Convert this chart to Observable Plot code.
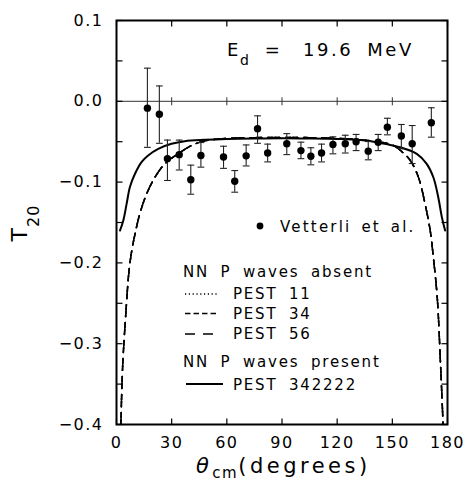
<!DOCTYPE html>
<html>
<head>
<meta charset="utf-8">
<script src="https://cdn.jsdelivr.net/npm/d3@7"></script>
<script src="https://cdn.jsdelivr.net/npm/@observablehq/plot@0.6"></script>
<style>
  html, body { margin: 0; padding: 0; background: #fff; }
</style>
</head>
<body>
<div id="chart"></div>
<script>
// ---- axes / ticks ----
const xDomain = [0, 180];
const yDomain = [-0.4, 0.1];
const xTicks = [0, 30, 60, 90, 120, 150, 180];
const yMajor = [-0.4, -0.3, -0.2, -0.1, 0.0, 0.1];
const yMinor = [-0.4, -0.35, -0.3, -0.25, -0.2, -0.15, -0.1, -0.05, 0.0, 0.05, 0.1];

// ---- Vetterli et al. data ----
const dataTheta = [16.8, 23.3, 27.7, 34.1, 40.4, 45.9, 58.2, 64.3, 70.5, 76.7, 82.2, 92.6,
                   100.3, 105.7, 111.5, 117.7, 124.4, 130.3, 136.9, 142.3, 147.3, 154.9, 160.8, 171.2];
const dataT20   = [-0.0085, -0.016, -0.071, -0.066, -0.097, -0.067, -0.069, -0.099, -0.0675, -0.034, -0.064, -0.0526,
                   -0.061, -0.068, -0.064, -0.0535, -0.0526, -0.050, -0.0617, -0.0506, -0.032, -0.043, -0.0526, -0.0266];
const dataLo    = [-0.057, -0.052, -0.098, -0.085, -0.115, -0.0815, -0.083, -0.1125, -0.080, -0.052, -0.075, -0.066,
                   -0.071, -0.0786, -0.075, -0.065, -0.064, -0.061, -0.0724, -0.061, -0.0415, -0.0588, -0.077, -0.0444];
const dataHi    = [0.041, 0.019, -0.048, -0.048, -0.079, -0.051, -0.0556, -0.0857, -0.054, -0.018, -0.053, -0.040,
                   -0.0506, -0.0575, -0.053, -0.044, -0.042, -0.041, -0.0498, -0.041, -0.021, -0.0287, -0.030, -0.008];

// ---- NN P waves present: PEST 342222 ----
const pest342222Theta = [1.9, 3.7, 5.5, 7.3, 10, 13.7, 17.2, 22.7, 29.9, 37.1, 48, 60, 75, 90, 105, 120,
                         132.7, 143.4, 154.2, 163.3, 168.7, 172.3, 175.0, 176.9, 178.7];
const pest342222T20   = [-0.160, -0.1475, -0.127, -0.106, -0.090, -0.075, -0.067, -0.0588, -0.0526, -0.0494, -0.0477, -0.0466, -0.0460, -0.0458, -0.0460, -0.0466,
                         -0.0480, -0.0515, -0.0568, -0.065, -0.0774, -0.094, -0.119, -0.143, -0.160];

// ---- NN P waves absent: PEST 11, PEST 34, PEST 56 (indistinguishable in the figure) ----
const pestAbsentTheta = [2.4, 3.3, 5.0, 6.8, 8.3, 10, 12.7, 16.4, 20.9, 26.3, 33.5, 40.8, 48, 60, 75, 90, 105, 120,
                         132, 142, 150.6, 155, 159.7, 164.2, 167.8, 170.6, 172.3, 174.4, 176.2, 177.6];
const pest56T20 = [-0.40, -0.33, -0.265, -0.21, -0.185, -0.165, -0.139, -0.1145, -0.094, -0.0774, -0.065, -0.0547, -0.049, -0.0460, -0.0450, -0.0448, -0.0450, -0.0458,
                   -0.0475, -0.050, -0.0547, -0.062, -0.073, -0.094, -0.127, -0.160, -0.193, -0.242, -0.325, -0.40];
const pest34T20 = pest56T20.slice();
const pest11T20 = pest56T20.slice();

// ---- tables built from the arrays ----
const points = dataTheta.map((x, i) => ({x, y: dataT20[i], lo: dataLo[i], hi: dataHi[i]}));
const toRows = (xs, ys) => xs.map((x, i) => ({x, y: ys[i]}));
const solidRows = toRows(pest342222Theta, pest342222T20);
const p56Rows = toRows(pestAbsentTheta, pest56T20);
const p34Rows = toRows(pestAbsentTheta, pest34T20);
const p11Rows = toRows(pestAbsentTheta, pest11T20);

// dash patterns (same period so coincident curves look like one dashed line)
const dash56 = "12,6";
const dash34 = "5,2,5,6";
const dash11 = "1.5,2,1.5,2,1.5,2,1.5,6";

// custom line symbols for ticks and caps
const seg = (x0, y0, x1, y1) => ({draw(ctx) { ctx.moveTo(x0, y0); ctx.lineTo(x1, y1); }});
const tickUp = seg(0, 0, 0, -6);
const tickDown = seg(0, 0, 0, 6);
const tickRightward = seg(0, 0, 6, 0);
const tickLeftward = seg(0, 0, -6, 0);
const tickCross = seg(0, -4, 0, 4);
const capSym = seg(-3.4, 0, 3.4, 0);

const svg = Plot.plot({
  width: 467,
  height: 481,
  marginLeft: 116,
  marginRight: 20,
  marginTop: 20,
  marginBottom: 57,
  style: {fontFamily: "DejaVu Sans", fontSize: "16px", letterSpacing: "1.5px", color: "black", background: "white"},
  x: {domain: xDomain},
  y: {domain: yDomain},
  marks: [
    Plot.axisX({ticks: xTicks, tickSize: 0, tickPadding: 12, label: null, fontSize: 16, tickFormat: d3.format("d")}),
    Plot.axisY({ticks: yMajor, tickSize: 0, tickPadding: 13, label: null, fontSize: 16, tickFormat: d3.format(".1f")}),
    Plot.ruleY([0], {stroke: "#333", strokeWidth: 1}),
    Plot.dot(xTicks.slice(1, -1), {x: d => d, y: () => 0, symbol: tickCross, stroke: "#333", fill: "none", strokeWidth: 1}),
    Plot.dot(xTicks, {x: d => d, y: () => yDomain[0], symbol: tickUp, stroke: "black", fill: "none", strokeWidth: 1.2}),
    Plot.dot(xTicks, {x: d => d, y: () => yDomain[1], symbol: tickDown, stroke: "black", fill: "none", strokeWidth: 1.2}),
    Plot.dot(yMinor, {x: () => xDomain[0], y: d => d, symbol: tickRightward, stroke: "black", fill: "none", strokeWidth: 1.2}),
    Plot.dot(yMinor, {x: () => xDomain[1], y: d => d, symbol: tickLeftward, stroke: "black", fill: "none", strokeWidth: 1.2}),
    Plot.line(p11Rows, {x: "x", y: "y", stroke: "black", strokeWidth: 1.5, strokeDasharray: dash11, curve: "catmull-rom", clip: true}),
    Plot.line(p34Rows, {x: "x", y: "y", stroke: "black", strokeWidth: 1.5, strokeDasharray: dash34, curve: "catmull-rom", clip: true}),
    Plot.line(p56Rows, {x: "x", y: "y", stroke: "black", strokeWidth: 1.5, strokeDasharray: dash56, curve: "catmull-rom", clip: true}),
    Plot.line(solidRows, {x: "x", y: "y", stroke: "black", strokeWidth: 2, curve: "catmull-rom", clip: true}),
    Plot.ruleX(points, {x: "x", y1: "lo", y2: "hi", stroke: "#222", strokeWidth: 1.1}),
    Plot.dot(points, {x: "x", y: "lo", symbol: capSym, stroke: "#222", fill: "none", strokeWidth: 1.1}),
    Plot.dot(points, {x: "x", y: "hi", symbol: capSym, stroke: "#222", fill: "none", strokeWidth: 1.1}),
    Plot.dot(points, {x: "x", y: "y", r: 3.7, fill: "black", stroke: "none"}),
    Plot.frame({stroke: "black", strokeWidth: 2})
  ]
});

document.getElementById("chart").appendChild(svg);

// ---- annotations, axis titles and legend ----
const g = d3.select(svg).append("g").attr("fill", "black").attr("text-anchor", "start");

// y-axis title T20
const yt = g.append("text")
  .attr("transform", "translate(27,223) rotate(-90)")
  .attr("text-anchor", "middle")
  .style("font-size", "22px").style("letter-spacing", "1px");
yt.append("tspan").text("T");
yt.append("tspan").attr("dy", 12).style("font-size", "16px").text("20");

// x-axis title θcm(degrees)
const xt = g.append("text")
  .attr("x", 196).attr("y", 473)
  .style("font-size", "21px").style("letter-spacing", "3.5px");
xt.append("tspan").style("font-style", "italic").text("θ");
xt.append("tspan").attr("dy", 5).style("font-size", "15px").style("letter-spacing", "1.5px").text("cm");
xt.append("tspan").attr("dy", -5).text("(degrees)");

// E_d = 19.6 MeV
const et = g.append("text").attr("x", 227).attr("y", 56).style("font-size", "18px");
et.append("tspan").text("E");
et.append("tspan").attr("dy", 9).style("font-size", "14px").text("d");
g.append("text").attr("x", 273).attr("y", 56).attr("text-anchor", "middle")
  .style("font-size", "18px").text("=");
g.append("text").attr("x", 303).attr("y", 56)
  .style("font-size", "18px").style("letter-spacing", "2.5px").style("word-spacing", "6px")
  .text("19.6 MeV");

// Vetterli et al.
g.append("circle").attr("cx", 260).attr("cy", 226).attr("r", 3.4);
g.append("text").attr("x", 280).attr("y", 232)
  .style("font-size", "15px").style("letter-spacing", "2.2px").style("word-spacing", "3px")
  .text("Vetterli et al.");

// legend
const legendText = (x, y, s) => g.append("text").attr("x", x).attr("y", y)
  .style("font-size", "15px").style("letter-spacing", "1.8px").style("word-spacing", "5px").text(s);
const legendLine = (x1, x2, y, dash, w) => g.append("line")
  .attr("x1", x1).attr("x2", x2).attr("y1", y).attr("y2", y)
  .attr("stroke", "black").attr("stroke-width", w).attr("stroke-dasharray", dash);

legendText(183, 277, "NN P waves absent");
legendLine(185, 217, 294, "1.2,2.6", 1.3);
legendText(233, 299, "PEST 11");
legendLine(185, 217, 313.5, "5.5,3", 1.3);
legendText(233, 319, "PEST 34");
legendLine(185, 217, 334, "10,8", 1.3);
legendText(233, 339, "PEST 56");
legendText(183, 367, "NN P waves present");
legendLine(186, 223, 384, null, 1.8);
legendText(233, 390, "PEST 342222");
</script>
</body>
</html>
